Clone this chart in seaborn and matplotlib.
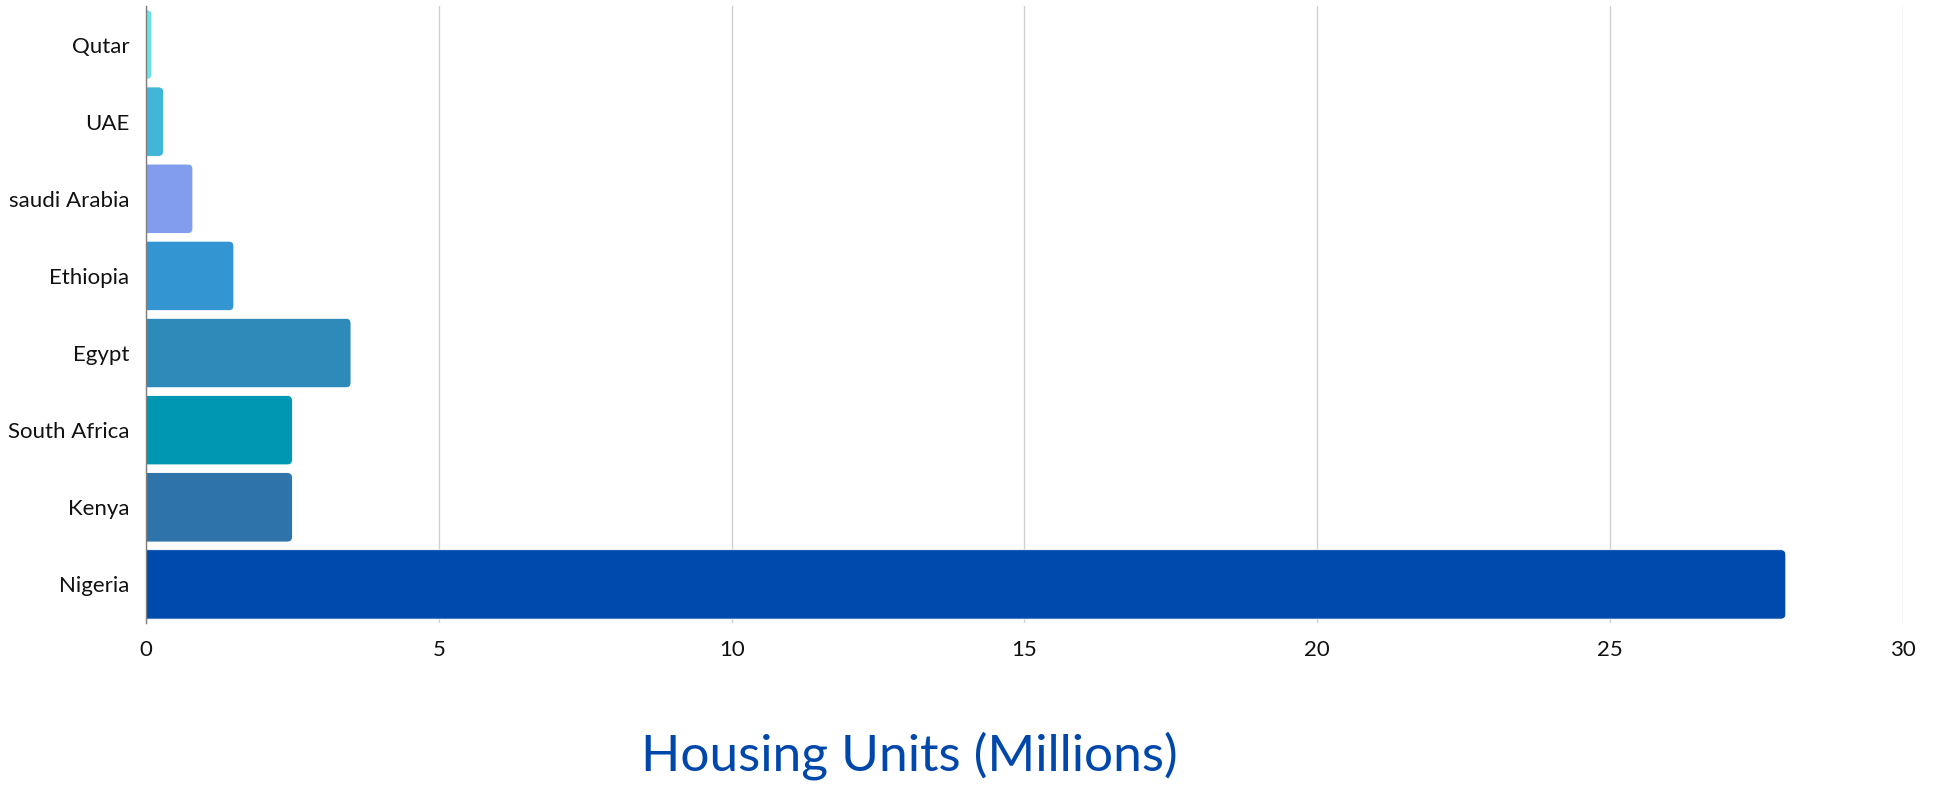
import matplotlib
matplotlib.use("Agg")
import matplotlib.pyplot as plt
from matplotlib.patches import FancyBboxPatch
import seaborn as sns
import pandas as pd

# Housing units by country (millions)
countries = ["Qutar", "UAE", "saudi Arabia", "Ethiopia", "Egypt",
             "South Africa", "Kenya", "Nigeria"]
units = [0.1, 0.3, 0.8, 1.5, 3.5, 2.5, 2.5, 28.0]
colors = ["#6AE3E6", "#41B6D6", "#829DEE", "#3396D3", "#2E8AB8",
          "#0097B2", "#2E74AA", "#004AAD"]
x_ticks = [0, 5, 10, 15, 20, 25, 30]
title = "Housing Units (Millions)"

sns.set_theme(style="white")
plt.rcParams["font.family"] = ["Lato", "DejaVu Sans"]

df = pd.DataFrame({"country": countries, "units": units})

fig = plt.figure(figsize=(19.39, 7.85), dpi=100)
ax = fig.add_axes([0.0753, 0.2064, 0.9061, 0.786])

sns.barplot(data=df, y="country", x="units", hue="country",
            palette=colors, legend=False, width=0.9, saturation=1,
            orient="h", ax=ax)

ax.set_xlim(0, 30)
ax.set_ylim(7.5, -0.5)

# Swap plain rectangles for ones with softly rounded ends
ax.figure.canvas.draw()
px_x = ax.transData.transform((1, 0))[0] - ax.transData.transform((0, 0))[0]
px_y = abs(ax.transData.transform((0, 1))[1] - ax.transData.transform((0, 0))[1])
radius_px = 5
rs = radius_px / px_x
aspect = px_x / px_y
for p in list(ax.patches):
    x0, y0 = p.get_x(), p.get_y()
    w, h = p.get_width(), p.get_height()
    fc = p.get_facecolor()
    p.remove()
    ext = 0.3
    box = FancyBboxPatch((x0 - ext, y0), w + ext, h,
                         boxstyle=f"round,pad=0,rounding_size={rs}",
                         mutation_aspect=aspect,
                         facecolor=fc, edgecolor="white", linewidth=0.6,
                         zorder=2, clip_on=True)
    ax.add_patch(box)

ax.set_xticks(x_ticks)
ax.set_xticklabels([str(t) for t in x_ticks])
ax.xaxis.grid(True, color="#D0D0D0", linewidth=1.0)
ax.yaxis.grid(False)
ax.set_axisbelow(True)

for s in ["top", "right", "bottom"]:
    ax.spines[s].set_visible(False)
ax.spines["left"].set_color("#7F7F7F")
ax.spines["left"].set_linewidth(1.0)
ax.spines["left"].set_zorder(3)

ax.tick_params(axis="x", length=0, pad=12, labelsize=16, labelcolor="#111111")
ax.tick_params(axis="y", length=0, pad=12, labelsize=16, labelcolor="#111111")
ax.set_xlabel("")
ax.set_ylabel("")

fig.text(0.469, 0.019, title, ha="center", va="baseline",
         fontsize=37, color="#0047AB")

fig.savefig("out.png", dpi=100, facecolor="white")
